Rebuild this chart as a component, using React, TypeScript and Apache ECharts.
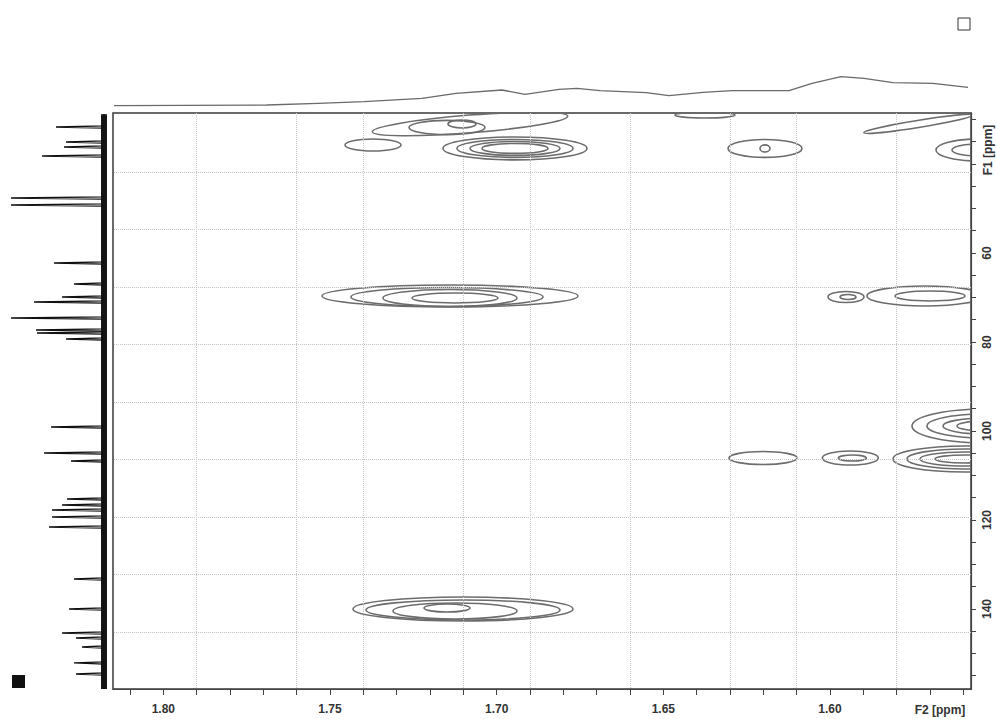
import React, { useEffect, useRef } from "react";
import * as echarts from "echarts";

// ---- axis ranges (ppm) ----
const F2_MIN = 1.5577;
const F2_MAX = 1.8151;
const F1_MIN = 28.54;
const F1_MAX = 157.98;

const f2TickValues = [1.56, 1.57, 1.58, 1.59, 1.6, 1.61, 1.62, 1.63, 1.64, 1.65, 1.66, 1.67, 1.68, 1.69, 1.7, 1.71, 1.72, 1.73, 1.74, 1.75, 1.76, 1.77, 1.78, 1.79, 1.8, 1.81];
const f2LabelValues = [1.6, 1.65, 1.7, 1.75, 1.8];
const f1TickValues = [30, 35, 40, 45, 50, 55, 60, 65, 70, 75, 80, 85, 90, 95, 100, 105, 110, 115, 120, 125, 130, 135, 140, 145, 150, 155];
const f1LabelValues = [60, 80, 100, 120, 140];
const f2GridValues = [1.7896, 1.7638, 1.738, 1.7122, 1.6864, 1.6606, 1.6348, 1.609, 1.5832];
const f1GridValues = [41.8, 54.72, 67.64, 80.56, 93.48, 106.4, 119.32, 132.24, 145.16];

// ---- 2D contours: [F2 ppm, F1 ppm, half-width ppm, half-height ppm, tilt] ----
const crossPeakA = [[1.7371, 35.73, 0.0084, 1.35, 0]];
const crossPeakB = [
  [1.708, 31.0, 0.0294, 2.0, 0.08],
  [1.7149, 31.8, 0.0114, 1.6, 0],
  [1.7104, 31.0, 0.0042, 0.9, 0],
];
const crossPeakC = [
  [1.6945, 36.5, 0.0216, 2.58, 0],
  [1.6945, 36.5, 0.0174, 2.02, 0],
  [1.6945, 36.5, 0.0135, 1.57, 0],
  [1.6945, 36.5, 0.0099, 1.12, 0],
];
const crossPeakD = [
  [1.6195, 36.5, 0.0111, 2.02, 0],
  [1.6195, 36.5, 0.0015, 0.8, 0],
];
const crossPeakE = [[1.6375, 29.0, 0.009, 0.67, 0]];
const crossPeakF = [[1.5736, 31.0, 0.0165, 0.79, 0.16]];
const crossPeakG = [
  [1.5556, 36.85, 0.0126, 2.47, 0],
  [1.5556, 36.85, 0.0078, 1.35, 0],
];
const crossPeakH = [
  [1.714, 69.66, 0.0384, 2.47, 0],
  [1.7149, 69.89, 0.0288, 2.13, 0],
  [1.714, 70.11, 0.0201, 1.91, 0],
  [1.7125, 70.11, 0.0129, 1.12, 0],
];
const crossPeakI = [
  [1.5952, 69.89, 0.0054, 1.24, 0],
  [1.5946, 69.89, 0.0024, 0.56, 0],
  [1.5715, 69.66, 0.0174, 2.25, 0],
  [1.57, 69.66, 0.0105, 1.12, 0],
];
const crossPeakJ = [
  [1.5535, 98.88, 0.0219, 3.82, 0],
  [1.5535, 98.88, 0.0174, 2.7, 0],
  [1.5535, 98.88, 0.0126, 1.8, 0],
  [1.5535, 98.88, 0.0084, 1.12, 0],
];
const crossPeakK = [
  [1.6201, 106.07, 0.0102, 1.46, 0],
  [1.5939, 106.07, 0.0084, 1.57, 0],
  [1.5933, 106.07, 0.0042, 0.67, 0],
  [1.5595, 106.29, 0.0216, 2.92, 0],
  [1.5595, 106.29, 0.0174, 2.25, 0],
  [1.5595, 106.29, 0.0135, 1.57, 0],
  [1.5595, 106.29, 0.009, 0.9, 0],
];
const crossPeakL = [
  [1.7101, 140.0, 0.033, 2.7, 0],
  [1.7101, 140.22, 0.0291, 2.25, 0],
  [1.7125, 140.45, 0.0186, 1.8, 0],
  [1.7149, 139.78, 0.0069, 0.9, 0],
];

// ---- top 1D projection (F2): [ppm, intensity] ----
const f2Projection = [
  [1.8148, 1.3], [1.769, 2], [1.7536, 3.7], [1.7398, 5.3], [1.7224, 8.7], [1.7122, 13.7],
  [1.6984, 17], [1.6915, 12.7], [1.6813, 17.7], [1.6759, 18.7], [1.669, 16.3], [1.6552, 14.3],
  [1.6483, 11.3], [1.6381, 14.7], [1.6294, 16.3], [1.6123, 16.3], [1.6054, 23.7], [1.5967, 30.3],
  [1.5898, 28.7], [1.5811, 24.3], [1.5691, 23.7], [1.5586, 19.7],
];

// ---- left 1D carbon spectrum (F1): [ppm, intensity] ----
const f1Peaks = [
  [31.69, 48], [35.06, 38], [36.18, 40], [38.2, 62], [47.64, 93], [49.21, 93],
  [62.25, 50], [66.97, 30], [69.89, 42], [71.01, 70], [74.61, 93], [77.3, 68],
  [77.98, 67], [79.33, 38], [99.1, 53], [104.94, 60], [106.74, 33], [115.28, 37],
  [116.63, 42], [117.75, 52], [119.33, 52], [121.57, 55], [133.26, 30], [140.0, 35],
  [145.39, 42], [146.52, 28], [148.54, 22], [152.13, 30], [154.61, 28],
];

const FONT = "'Liberation Sans', Arial, sans-serif";

export default function App() {
  const ref = useRef<HTMLDivElement>(null);
  useEffect(() => {
    const chart = echarts.init(ref.current!, null, { renderer: "svg" });
    const contours = [
      ...crossPeakA, ...crossPeakB, ...crossPeakC, ...crossPeakD, ...crossPeakE, ...crossPeakF,
      ...crossPeakG, ...crossPeakH, ...crossPeakI, ...crossPeakJ, ...crossPeakK, ...crossPeakL,
    ];
    const sorted = [...f1Peaks].sort((a, b) => a[0] - b[0]);
    const leftData: number[][] = [[0, F1_MIN + 0.3]];
    for (const [ppm, inten] of sorted) {
      leftData.push([0, ppm - 0.25], [inten, ppm], [0, ppm + 0.25]);
    }
    leftData.push([0, F1_MAX]);

    const option: any = {
      animation: false,
      backgroundColor: "#ffffff",
      grid: [
        { left: 113, right: 25, top: 113, bottom: 30, show: true, borderColor: "#3a3a3a", borderWidth: 1.5 },
        { left: 113, right: 25, top: 67, height: 40 },
        { left: 8, right: 888, top: 113, bottom: 30 },
      ],
      xAxis: [
        {
          gridIndex: 0, type: "value", inverse: true, min: F2_MIN, max: F2_MAX,
          axisLine: { show: true, lineStyle: { color: "#444", width: 1.2 } },
          axisTick: { show: true, customValues: f2TickValues, length: 6, lineStyle: { color: "#444" } },
          axisLabel: {
            customValues: f2LabelValues, formatter: (v: number) => v.toFixed(2),
            color: "#333", fontSize: 12, fontWeight: "bold", fontFamily: FONT, margin: 14,
          },
          splitLine: { show: false },
        },
        { gridIndex: 1, type: "value", inverse: true, min: F2_MIN, max: F2_MAX, show: false },
        { gridIndex: 2, type: "value", inverse: true, min: -4, max: 96, show: false },
      ],
      yAxis: [
        {
          gridIndex: 0, type: "value", inverse: true, position: "right", min: F1_MIN, max: F1_MAX,
          axisLine: { show: true, lineStyle: { color: "#444", width: 1.2 } },
          axisTick: { show: true, customValues: f1TickValues, length: 5, lineStyle: { color: "#444" } },
          axisLabel: {
            customValues: f1LabelValues, rotate: 90, color: "#333", fontSize: 12,
            fontWeight: "bold", fontFamily: FONT, margin: 10,
          },
          splitLine: { show: false },
        },
        { gridIndex: 1, type: "value", min: 0, max: 40, show: false },
        { gridIndex: 2, type: "value", inverse: true, min: F1_MIN, max: F1_MAX, show: false },
      ],
      series: [
        {
          type: "line", xAxisIndex: 0, yAxisIndex: 0, data: [], silent: true,
          markLine: {
            silent: true, symbol: ["none", "none"], label: { show: false },
            lineStyle: { type: "dotted", color: "#c4c4c4", width: 1 },
            data: [...f2GridValues.map((v) => ({ xAxis: v })), ...f1GridValues.map((v) => ({ yAxis: v }))],
          },
        },
        {
          type: "custom", xAxisIndex: 0, yAxisIndex: 0, clip: true, silent: true,
          data: contours,
          renderItem: (params: any, api: any) => {
            const c = api.coord([api.value(0), api.value(1)]);
            const s = api.size([api.value(2), api.value(3)], [api.value(0), api.value(1)]);
            const cs = params.coordSys;
            return {
              type: "group",
              clipPath: { type: "rect", shape: { x: cs.x, y: cs.y, width: cs.width, height: cs.height } },
              children: [
                {
                  type: "ellipse", x: c[0], y: c[1], rotation: api.value(4),
                  shape: { cx: 0, cy: 0, rx: Math.abs(s[0]), ry: Math.abs(s[1]) },
                  style: { fill: "none", stroke: "#6c6c6c", lineWidth: 1.6 },
                },
              ],
            };
          },
        },
        {
          type: "line", xAxisIndex: 1, yAxisIndex: 1, data: f2Projection, showSymbol: false,
          lineStyle: { color: "#6a6a6a", width: 1.3 }, silent: true,
        },
        {
          type: "line", xAxisIndex: 2, yAxisIndex: 2, data: [[0, F1_MIN + 0.3], [0, F1_MAX]], showSymbol: false,
          lineStyle: { color: "#151515", width: 6 }, silent: true,
        },
        {
          type: "line", xAxisIndex: 2, yAxisIndex: 2, data: leftData, showSymbol: false,
          lineStyle: { color: "#111111", width: 1.3 }, silent: true,
        },
      ],
      graphic: [
        { type: "rect", shape: { x: 958, y: 18, width: 12, height: 12 }, style: { fill: "#fff", stroke: "#333", lineWidth: 1 } },
        { type: "rect", shape: { x: 12, y: 675, width: 13, height: 13 }, style: { fill: "#111" } },
        {
          type: "text", x: 940, y: 710,
          style: { text: "F2 [ppm]", fill: "#333", font: `bold 12px ${FONT}`, align: "center", verticalAlign: "middle" },
        },
        {
          type: "text", x: 988, y: 150, rotation: Math.PI / 2,
          style: { text: "F1 [ppm]", fill: "#333", font: `bold 12px ${FONT}`, align: "center", verticalAlign: "middle" },
        },
      ],
    };
    chart.setOption(option);
    return () => chart.dispose();
  }, []);
  return (
    <div
      ref={ref}
      style={{ position: "fixed", left: 0, top: 0, width: 996, height: 719, background: "#fff" }}
    />
  );
}
